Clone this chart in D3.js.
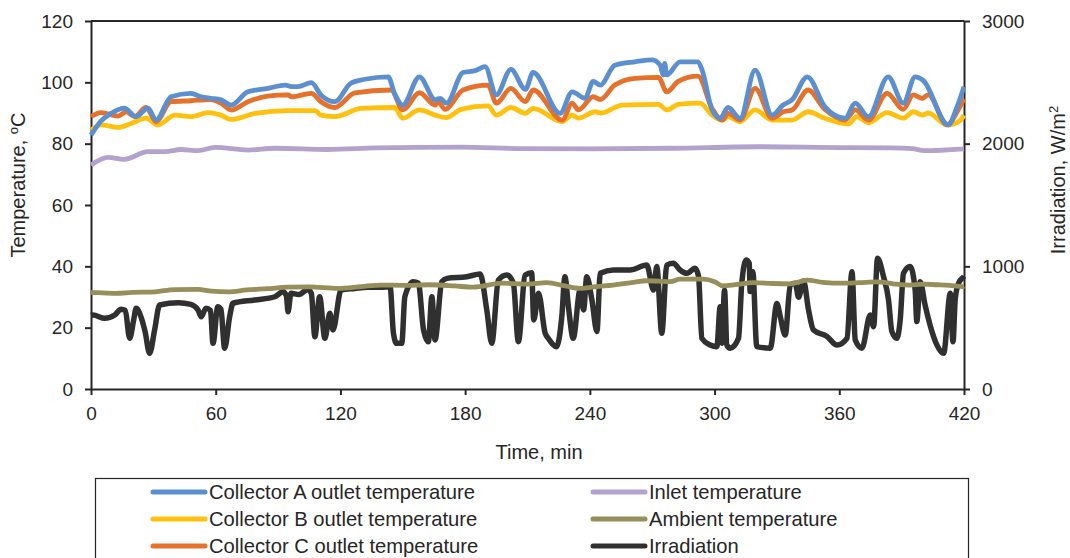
<!DOCTYPE html>
<html lang="en">
<head>
<meta charset="utf-8">
<title>Collector temperatures and irradiation</title>
<script src="https://d3js.org/d3.v7.min.js"></script>
<style>
  body { margin: 0; background: #fff; }
  text { font-family: "Liberation Sans", Arial, sans-serif; fill: #262626; }
</style>
</head>
<body>
<div id="chart"></div>
<script>
// [time (min), value] pairs
var collectorA = [[0,82.8],[5,87.5],[10,90],[16,91.6],[21.7,88.8],[27.4,91.6],[31.3,87.7],[38.5,95.3],[48,96.4],[53,95.3],[57.7,94.8],[62.5,94.3],[67.4,92.6],[75.5,96.9],[85,98],[93.4,99.1],[96.4,98.6],[99.6,98.6],[106,99.9],[110.6,95.9],[117.3,93.7],[125,99.7],[131.8,101],[143,101.8],[146,96.4],[150,92.6],[158,101.8],[165.6,94.3],[168,94.8],[171,93.2],[179,103.2],[184.8,103.8],[189.6,105.1],[195,95.9],[202,104.2],[209,97.7],[212.7,103.2],[225.7,89.9],[231.5,96.9],[237.7,94.8],[241.6,100.3],[245,99.1],[252,105.6],[261.8,106.7],[270,107.3],[273.8,105.6],[275.3,102.4],[276,106.2],[277,102.4],[283.4,106.7],[292,106.7],[294,104],[298.8,91],[302.7,88.3],[306.5,91.8],[312.3,88.3],[319.5,104],[327.7,89.3],[333,92.6],[337.3,94.3],[344.6,101.8],[353,92.1],[362.8,88.3],[367.7,93.2],[374,88.8],[383.5,101.8],[390.8,93.2],[396.5,101.8],[400.4,100.6],[412.4,86.1],[416.7,92.1],[420,98.6]];

var collectorB = [[0,84.4],[4.9,86.1],[13,85.3],[19.3,86.6],[26.5,88.3],[32.2,86.1],[40.4,89.3],[48,88.8],[56.3,90.1],[62.5,89.3],[67.4,87.9],[79,89.9],[94.8,90.8],[107.8,90.8],[110.6,89.3],[117.3,88.8],[130,91.5],[146,91.8],[150,88.3],[158,91],[165.6,89.3],[171,88.5],[178,91.2],[191,92.3],[195,89.3],[202,91.8],[209,89.9],[212.7,91.5],[226.7,87.2],[231.5,89.3],[234.5,88.3],[242.5,90.4],[245.5,90],[255.5,92.6],[273,92.8],[277,91],[282.5,92.8],[293,93.2],[298.8,89.3],[303.7,87.7],[306.5,88.8],[312.3,87.2],[319.5,91],[327.7,87.7],[337.3,87.7],[345,90.4],[353,88.3],[364.3,86.4],[368.5,88.8],[374,86.8],[383,90.1],[390.8,88.3],[395.6,90.4],[399.9,89.3],[402.8,90],[411.9,86.1],[418,87.5],[420,89.3]];

var collectorC = [[0,88.8],[4.9,90.1],[13,89],[17,90.4],[21,88.8],[26.5,91.8],[31.3,87.2],[38.5,93.7],[48,94],[57.7,94.4],[62.5,93.2],[67.4,91],[75.5,93.7],[85,95.5],[94.8,95.9],[96.4,95.3],[106,96.4],[110.6,93.7],[117.3,91.8],[127,96.6],[144.4,97.5],[150,91],[158,96.6],[165.6,92.6],[167,93.7],[170.3,91.2],[179,97.5],[191,99.1],[195,93.2],[202,98],[209,93.7],[212.7,97.5],[226.7,87.7],[231.5,93.2],[234.5,91],[241.6,95.3],[245,94.4],[252,99.1],[261.8,101.3],[273,101.6],[277,96.9],[282.5,100.3],[292,102],[298.8,91.5],[303.7,87.7],[306.5,89.9],[312.3,87.7],[319.5,98],[327.7,88.3],[333,90.4],[337.3,91],[345,97.5],[353,91.2],[362.8,87.7],[367.7,91],[374,87.7],[383,96.4],[390.8,91.2],[395.6,95.9],[399.9,94.8],[402.8,95.9],[411.9,86.1],[416.7,90.4],[420,94.7]];

var inlet = [[0,73],[8.2,75.5],[16,74.9],[27.4,77.4],[35.6,77.4],[43.3,78.1],[51.5,77.7],[59.7,78.8],[75.5,77.9],[88.5,78.5],[114,78.1],[137,78.6],[178,78.9],[207,78.4],[240,78.3],[280,78.5],[321,79],[360,78.7],[385,78.6],[395,78.4],[401,77.7],[420,78.3]];

var ambient = [[0,31.5],[3.4,31.4],[12,31.2],[20,31.5],[30.8,31.7],[40,32.4],[51.5,32.5],[58,31.9],[66,31.7],[75,32.3],[85,32.7],[94.8,33.2],[105,33.3],[118.9,32.8],[130,33.4],[139.5,33.9],[150,33.8],[163,34],[175,33.6],[183.8,33.2],[198,34.5],[210,34.2],[219.4,34.7],[228,33.6],[235.3,32.8],[243,33.4],[251,33.9],[260,34.7],[267.6,35.3],[278.6,35],[283.4,35.8],[294.5,35.8],[300,35],[304,33.6],[310,34],[318.6,34.7],[328,34.4],[336.4,34.3],[344.6,35.5],[352,34.8],[361.9,34.5],[370,34.7],[378.2,34.9],[386,34.3],[394,33.9],[400,34.2],[407,34],[413,33.8],[419.6,33.4],[420,33.5]];

// irradiation in W/m2, right axis
var irradiation = [[0,600],[1,603],[6.6,576],[11.4,603],[14.5,650],[16.5,640],[18.6,413],[20.5,560],[21.7,658],[24,590],[26,470],[28.2,291],[30.6,481],[33,685],[42,703],[48,690],[51.5,644],[53,589],[55.3,658],[57.5,640],[58.7,372],[61,671],[62.5,650],[64.3,332],[66.7,589],[68.3,699],[78.8,726],[88.4,752],[92.4,793],[94,760],[94.8,630],[96.2,780],[100,770],[104.4,812],[106,780],[107.7,426],[110,753],[112.5,413],[114.9,618],[116.4,481],[120.3,807],[126.9,820],[133,830],[139.5,829],[143.9,834],[145.5,455],[147,372],[149.5,372],[151,753],[155,875],[157.5,863],[160,480],[162.3,385],[164,753],[165.5,400],[168.8,875],[171.2,902],[180.8,915],[187.2,937],[190.4,645],[192.8,372],[196,888],[200,930],[203.2,863],[205.6,385],[208.9,930],[212,948],[213,563],[215.3,780],[218.5,455],[220,413],[224,345],[226.5,590],[228,915],[229.7,670],[232,413],[235.3,807],[237,645],[238.5,915],[241,725],[243.4,468],[245,943],[251.3,970],[259.4,970],[267.4,1010],[270.6,807],[272.2,998],[274.6,454],[277,1010],[280.2,1025],[283.4,970],[286.7,943],[290.7,984],[292.3,915],[293.9,413],[297.9,359],[301.1,345],[302.7,670],[303.5,373],[304.8,807],[305.9,358],[307.5,333],[311.5,413],[313.1,863],[315.2,1051],[316.7,1025],[317.1,795],[318.4,955],[320.3,345],[326.8,333],[330,698],[331.6,590],[334,440],[336.4,848],[338.8,863],[340.4,748],[342.8,880],[345.2,645],[347.6,480],[354.1,428],[358.9,358],[363.7,413],[366.1,955],[367.7,398],[370.9,333],[374.9,603],[376.5,508],[378.4,1065],[381.3,915],[383.7,725],[385.3,468],[387.7,413],[389.3,563],[390.9,943],[394.1,998],[396.5,807],[397.3,550],[398.9,875],[401.3,683],[403.7,520],[407,358],[410.2,291],[413.4,780],[414.7,385],[415.8,738],[417.4,863],[419.8,915],[420,920]];

var timeTicks = [0, 60, 120, 180, 240, 300, 360, 420];
var tempTicks = [0, 20, 40, 60, 80, 100, 120];
var irrTicks = [0, 1000, 2000, 3000];

var seriesNames = ["Collector A outlet temperature", "Collector B outlet temperature", "Collector C outlet temperature",
                   "Inlet temperature", "Ambient temperature", "Irradiation"];
var seriesColors = ["#5b8fd0", "#ffc10e", "#e6712a", "#b3a2cc", "#978f5b", "#303030"];

var W = 1070, H = 558;
var margin = {top: 21, right: 106, bottom: 169, left: 91};
var width = W - margin.left - margin.right,
    height = H - margin.top - margin.bottom;

var svg = d3.select("#chart").append("svg")
    .attr("width", W).attr("height", H)
    .style("background", "#fff");

var g = svg.append("g")
    .attr("transform", "translate(" + margin.left + "," + margin.top + ")");

var x = d3.scaleLinear().domain([0, 420]).range([0, width]);
var yT = d3.scaleLinear().domain([0, 120]).range([height, 0]);
var yI = d3.scaleLinear().domain([0, 3000]).range([height, 0]);

// frame top line
g.append("line")
  .attr("x1", 0).attr("x2", width).attr("y1", 0).attr("y2", 0)
  .attr("stroke", "#262626").attr("stroke-width", 2);

function styleAxis(sel) {
  sel.select(".domain").attr("stroke", "#262626").attr("stroke-width", 2);
  sel.selectAll(".tick line").attr("stroke", "#262626").attr("stroke-width", 2);
  sel.selectAll("text").style("font-size", "19px").attr("fill", "#262626");
}

g.append("g")
  .attr("transform", "translate(0," + height + ")")
  .call(d3.axisBottom(x).tickValues(timeTicks).tickSize(6).tickPadding(12).tickSizeOuter(0))
  .call(styleAxis);

g.append("g")
  .call(d3.axisLeft(yT).tickValues(tempTicks).tickSize(6).tickPadding(12).tickSizeOuter(0))
  .call(styleAxis);

g.append("g")
  .attr("transform", "translate(" + width + ",0)")
  .call(d3.axisRight(yI).tickValues(irrTicks).tickFormat(d3.format("d"))
        .tickSize(6).tickPadding(12).tickSizeOuter(0))
  .call(styleAxis);

// lines
var lineT = d3.line()
  .x(function(d) { return x(d[0]); })
  .y(function(d) { return yT(d[1]); })
  .curve(d3.curveMonotoneX);

var lineI = d3.line()
  .x(function(d) { return x(d[0]); })
  .y(function(d) { return yI(d[1]); })
  .curve(d3.curveMonotoneX);

var tempSeries = [inlet, ambient, collectorB, collectorC, collectorA];
var tempColors = [seriesColors[3], seriesColors[4], seriesColors[1], seriesColors[2], seriesColors[0]];

g.append("path")
  .datum(irradiation)
  .attr("d", lineI)
  .attr("fill", "none")
  .attr("stroke", seriesColors[5])
  .attr("stroke-width", 5.5)
  .attr("stroke-linejoin", "round");

tempSeries.forEach(function(s, i) {
  g.append("path")
    .datum(s)
    .attr("d", lineT)
    .attr("fill", "none")
    .attr("stroke", tempColors[i])
    .attr("stroke-width", 4.8)
    .attr("stroke-linejoin", "round");
});

// axis titles
var lt = svg.append("text")
  .attr("transform", "translate(25,185) rotate(-90)")
  .attr("text-anchor", "middle")
  .style("font-size", "20px");
lt.append("tspan").text("Temperature, ");
lt.append("tspan").attr("baseline-shift", "super").style("font-size", "13px").text("o");
lt.append("tspan").text("C");

var rt = svg.append("text")
  .attr("transform", "translate(1065,180) rotate(-90)")
  .attr("text-anchor", "middle")
  .style("font-size", "20px");
rt.append("tspan").text("Irradiation,  W/m");
rt.append("tspan").attr("baseline-shift", "super").style("font-size", "13px").text("2");

svg.append("text")
  .attr("x", 539).attr("y", 459)
  .attr("text-anchor", "middle")
  .style("font-size", "20px")
  .text("Time, min");

// legend
svg.append("rect")
  .attr("x", 95.5).attr("y", 478.5)
  .attr("width", 873).attr("height", 100)
  .attr("fill", "none").attr("stroke", "#262626").attr("stroke-width", 1.2);

var legendCols = [153, 593];
var legendRows = [492, 519, 546];
seriesNames.forEach(function(name, i) {
  var cx = legendCols[Math.floor(i / 3)], cy = legendRows[i % 3];
  svg.append("line")
    .attr("x1", cx).attr("x2", cx + 52)
    .attr("y1", cy).attr("y2", cy)
    .attr("stroke", seriesColors[i])
    .attr("stroke-width", 5)
    .attr("stroke-linecap", "round");
  svg.append("text")
    .attr("x", cx + 56).attr("y", cy + 7)
    .style("font-size", "20.2px")
    .text(name);
});
</script>
</body>
</html>
